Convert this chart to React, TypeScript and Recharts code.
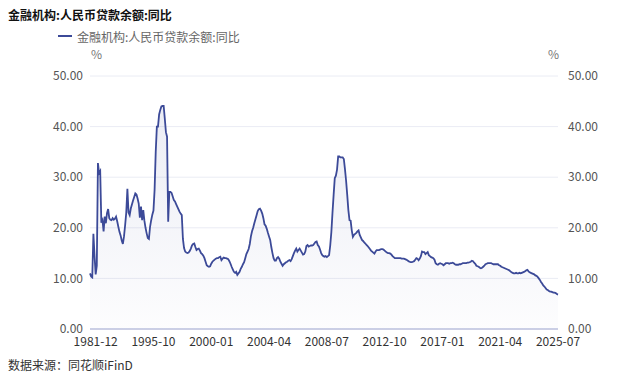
import { AreaChart, Area, Line, XAxis, YAxis, CartesianGrid } from 'recharts'

const FONT = '"Noto Sans CJK SC", "Noto Sans", sans-serif'
const LINE = '#3c4a98'

// 1976-12 … 1990-12, one value a year
const annualDates = [
  '1976-12', '1977-12', '1978-12', '1979-12', '1980-12', '1981-12', '1982-12', '1983-12',
  '1984-12', '1985-12', '1986-12', '1987-12', '1988-12', '1989-12', '1990-12',
]
const annualValues = [11.0, 10.4, 10.2, 18.8, 14.5, 10.8, 12.5, 32.8, 30.8, 31.2, 21.0, 21.5, 19.3, 22.2, 20.9]

// 1991-03 … 1992-12, quarterly
const quarterlyDates = ['1991-03', '1991-06', '1991-09', '1991-12', '1992-03', '1992-06', '1992-09', '1992-12']
const quarterlyValues = [22.9, 23.7, 21.9, 21.6, 21.5, 21.9, 21.6, 21.8]

// monthly from 1993-01 to 2025-07, one row per year
const monthlyValues = [
  22.2, 21.3, 20.2, 19.2, 18.5, 17.5, 16.8, 18.3, 20.5, 23.0, 27.7, 23.0, // 1993
  22.5, 23.8, 24.6, 25.4, 26.1, 26.8, 26.6, 25.8, 24.8, 22.0, 24.2, 21.5, // 1994
  23.5, 21.4, 20.0, 18.9, 18.0, 17.8, 20.2, 21.5, 22.6, 23.4, 27.5, 35.0, // 1995
  40.0, 40.0, 42.4, 43.3, 44.0, 44.1, 44.1, 41.6, 38.9, 38.0, 21.2, 27.1, // 1996
  27.1, 26.9, 26.2, 25.5, 25.2, 24.7, 24.2, 23.7, 23.2, 22.8, 22.5, 17.8, // 1997
  16.0, 15.3, 15.1, 15.0, 15.1, 15.4, 15.9, 16.5, 16.8, 16.9, 16.2, 15.6, // 1998
  15.8, 15.9, 15.5, 15.0, 14.8, 14.5, 14.0, 13.3, 12.6, 12.4, 12.3, 12.4, // 1999
  12.9, 13.3, 13.5, 13.7, 13.9, 14.0, 14.0, 14.2, 14.3, 13.6, 13.9, 14.1, // 2000
  14.0, 14.0, 13.9, 13.8, 13.4, 12.9, 12.3, 11.8, 11.3, 11.1, 11.3, 10.7, // 2001
  11.0, 11.3, 11.9, 12.3, 12.8, 13.2, 14.0, 14.8, 15.3, 15.8, 16.8, 18.3, // 2002
  19.3, 20.0, 20.9, 21.7, 22.5, 23.3, 23.7, 23.8, 23.4, 22.8, 21.9, 20.7, // 2003
  20.4, 19.8, 19.0, 18.3, 17.6, 16.2, 15.0, 14.0, 13.5, 13.5, 14.0, 14.2, // 2004
  13.9, 13.3, 12.9, 12.5, 12.8, 13.0, 13.2, 13.3, 13.5, 13.6, 13.4, 13.8, // 2005
  14.4, 15.0, 15.5, 15.9, 15.3, 15.6, 15.9, 15.5, 15.1, 14.7, 14.8, 15.3, // 2006
  16.4, 16.6, 16.3, 16.4, 16.5, 16.5, 16.6, 16.9, 17.2, 17.3, 16.6, 16.3, // 2007
  15.7, 15.0, 14.6, 14.4, 14.3, 14.4, 14.2, 14.4, 14.6, 16.5, 19.2, 23.0, // 2008
  26.5, 29.8, 30.3, 31.5, 34.1, 34.1, 33.9, 33.9, 33.9, 33.6, 31.6, 29.3, // 2009
  26.5, 23.5, 21.5, 21.4, 19.5, 18.2, 18.6, 18.8, 19.0, 19.3, 19.5, 18.6, // 2010
  18.1, 17.6, 17.4, 17.1, 16.9, 16.6, 16.4, 16.1, 15.8, 15.5, 15.3, 15.1, // 2011
  14.9, 15.3, 15.6, 15.6, 15.6, 15.7, 15.8, 15.8, 15.7, 15.5, 15.3, 15.1, // 2012
  15.0, 15.0, 14.9, 14.7, 14.4, 14.2, 14.0, 14.0, 14.0, 14.0, 14.0, 14.0, // 2013
  13.9, 13.9, 13.9, 13.8, 13.7, 13.6, 13.4, 13.3, 13.2, 13.2, 13.3, 13.4, // 2014
  13.7, 14.0, 13.9, 13.6, 13.9, 14.4, 15.3, 15.2, 15.2, 14.8, 15.0, 15.2, // 2015
  14.6, 14.4, 14.2, 14.1, 14.0, 13.7, 13.0, 12.8, 12.7, 12.9, 13.0, 12.9, // 2016
  12.8, 12.6, 12.8, 13.0, 13.0, 13.0, 12.9, 13.0, 13.0, 13.1, 13.0, 12.8, // 2017
  12.7, 12.7, 12.7, 12.8, 12.8, 12.9, 13.0, 13.0, 13.0, 13.0, 13.1, 13.1, // 2018
  13.2, 13.3, 13.5, 13.4, 13.1, 12.9, 12.5, 12.4, 12.3, 12.1, 12.0, 12.1, // 2019
  12.3, 12.5, 12.8, 12.9, 13.0, 13.0, 13.0, 13.0, 12.9, 12.8, 12.8, 12.8, // 2020
  12.8, 12.8, 12.6, 12.5, 12.3, 12.2, 12.1, 12.0, 11.9, 11.8, 11.7, 11.6, // 2021
  11.4, 11.2, 11.1, 11.0, 11.0, 11.1, 11.0, 11.0, 11.1, 11.0, 11.1, 11.2, // 2022
  11.3, 11.4, 11.6, 11.7, 11.4, 11.2, 11.1, 11.0, 10.9, 10.8, 10.6, 10.5, // 2023
  10.3, 10.0, 9.7, 9.3, 9.0, 8.6, 8.4, 8.1, 7.8, 7.7, 7.5, 7.4, // 2024
  7.4, 7.3, 7.2, 7.2, 7.1, 6.9, 6.8, // 2025
]

const xTicks = ['1981-12', '1995-10', '2000-01', '2004-04', '2008-07', '2012-10', '2017-01', '2021-04', '2025-07']
const yTicks = [0, 10, 20, 30, 40, 50]

const monthlyDates = monthlyValues.map((_, i) => {
  const y = 1993 + Math.floor(i / 12)
  const m = (i % 12) + 1
  return `${y}-${m < 10 ? '0' + m : m}`
})

const dates = [...annualDates, ...quarterlyDates, ...monthlyDates]
const values = [...annualValues, ...quarterlyValues, ...monthlyValues]
const data = dates.map((date, i) => ({ date, value: values[i] }))

const fmt = (v: number) => Number(v).toFixed(2)

export default function App() {
  return (
    <div
      style={{
        position: 'absolute',
        left: 0,
        top: 0,
        width: 640,
        height: 381,
        background: '#fff',
        fontFamily: FONT,
      }}
    >
      <AreaChart width={640} height={381} data={data} margin={{ top: 76, right: 0, bottom: 0, left: 0 }}>
        <defs>
          <linearGradient id="areaFill" x1="0" y1="0" x2="0" y2="1">
            <stop offset="0%" stopColor={LINE} stopOpacity={0.17} />
            <stop offset="100%" stopColor={LINE} stopOpacity={0.02} />
          </linearGradient>
        </defs>
        <CartesianGrid vertical={false} stroke="#eaecf4" />
        <XAxis
          dataKey="date"
          ticks={xTicks}
          interval={0}
          height={52}
          tickLine={false}
          tickSize={0}
          tickMargin={8}
          axisLine={{ stroke: '#a3aad2' }}
          tick={{ fontSize: 12, fill: '#333', fontFamily: FONT }}
        />
        <YAxis
          width={90}
          domain={[0, 50]}
          ticks={yTicks}
          tickFormatter={fmt}
          axisLine={false}
          tickLine={false}
          tickSize={0}
          tickMargin={7}
          tick={{ fontSize: 12, fill: '#555', fontFamily: FONT }}
        />
        <YAxis
          yAxisId="right"
          orientation="right"
          width={82}
          domain={[0, 50]}
          ticks={yTicks}
          tickFormatter={fmt}
          axisLine={false}
          tickLine={false}
          tickSize={0}
          tickMargin={10}
          tick={{ fontSize: 12, fill: '#555', fontFamily: FONT }}
        />
        <Area
          type="linear"
          dataKey="value"
          stroke={LINE}
          strokeWidth={1.8}
          fill="url(#areaFill)"
          dot={false}
          activeDot={false}
          isAnimationActive={false}
        />
        {/* same series tied to the right axis so that it gets drawn; no visible stroke */}
        <Line
          yAxisId="right"
          type="linear"
          dataKey="value"
          stroke="none"
          dot={false}
          activeDot={false}
          legendType="none"
          isAnimationActive={false}
        />
      </AreaChart>

      <div style={{ position: 'absolute', left: 8, top: 6, fontSize: 12, fontWeight: 700, color: '#111', lineHeight: '18px' }}>
        金融机构:人民币贷款余额:同比
      </div>
      <div
        style={{
          position: 'absolute',
          left: 58,
          top: 27,
          height: 18,
          display: 'flex',
          alignItems: 'center',
          fontSize: 12,
          color: '#666',
        }}
      >
        <span style={{ display: 'inline-block', width: 14, height: 2, background: LINE, marginRight: 5 }} />
        金融机构:人民币贷款余额:同比
      </div>
      <div style={{ position: 'absolute', left: 91, top: 46, fontSize: 12, color: '#777', lineHeight: '16px' }}>%</div>
      <div style={{ position: 'absolute', left: 548, top: 46, fontSize: 12, color: '#777', lineHeight: '16px' }}>%</div>
      <div style={{ position: 'absolute', left: 8, top: 357, fontSize: 12, color: '#333', lineHeight: '16px' }}>
        数据来源：同花顺iFinD
      </div>
    </div>
  )
}
